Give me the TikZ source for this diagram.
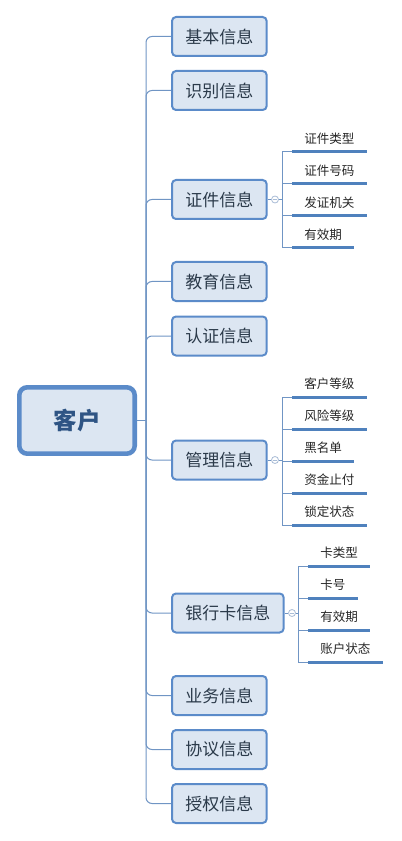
\documentclass[tikz,border=0pt]{standalone}
\usepackage{fontspec}
\newfontfamily\cjk{Noto Sans CJK SC}
\definecolor{boxfill}{HTML}{DCE6F2}
\definecolor{boxline}{HTML}{5B8BC9}
\definecolor{branchline}{HTML}{7095C4}
\definecolor{leafline}{HTML}{4F81BD}
\definecolor{roottext}{HTML}{2E5484}
\definecolor{topictext}{HTML}{2B3A4A}
\definecolor{foldline}{HTML}{A9BCD6}

\begin{document}
\begin{tikzpicture}[x=0.75pt,y=-0.75pt,
  rootbox/.style={draw=boxline,line width=3.4pt,fill=boxfill,rounded corners=6pt,
    minimum width=86.6pt,minimum height=49.8pt,inner sep=0pt,
    text=roottext,font=\cjk\bfseries\fontsize{17.6}{20}\selectfont},
  topic/.style={draw=boxline,line width=1.5pt,fill=boxfill,rounded corners=3pt,
    anchor=west,inner xsep=10pt,inner ysep=0pt,minimum height=29.25pt,
    text=topictext,font=\cjk\fontsize{12.75}{15}\selectfont},
  leaf/.style={anchor=south west,inner xsep=9pt,inner ysep=0pt,minimum height=19.5pt,
    text=black!85,font=\cjk\fontsize{9.4}{11}\selectfont},
  leafline/.style={draw=leafline,line width=2.25pt},
  branch/.style={draw=branchline,line width=0.75pt,rounded corners=4.5pt},
  hub/.style={draw=branchline,line width=0.75pt},
  fold/.style={circle,draw=foldline,fill=white,line width=0.6pt,minimum size=5.25pt,inner sep=0pt,
    path picture={\draw[foldline,line width=0.6pt]
      ([xshift=-1.5pt]path picture bounding box.center) -- ([xshift=1.5pt]path picture bounding box.center);}}
]
\useasboundingbox (0,0) rectangle (401,841);

% main topics
\node[rootbox] (root) at (77,420.5) {客户};
\coordinate (trunk) at (146,420.5);
\node[topic] (jiben) at (171,36.5) {基本信息};
\node[topic] (shibie) at (171,90.5) {识别信息};
\node[topic] (zhengjian) at (171,199.5) {证件信息};
\node[topic] (jiaoyu) at (171,281.5) {教育信息};
\node[topic] (renzheng) at (171,336) {认证信息};
\node[topic] (guanli) at (171,460) {管理信息};
\node[topic] (yinhangka) at (171,613) {银行卡信息};
\node[topic] (yewu) at (171,695.5) {业务信息};
\node[topic] (xieyi) at (171,749.5) {协议信息};
\node[topic] (shouquan) at (171,803.5) {授权信息};

\draw[branch] (root.east) -- (trunk);
\foreach \t in {jiben,shibie,zhengjian,jiaoyu,renzheng,guanli,yinhangka,yewu,xieyi,shouquan}
  \draw[branch] (trunk) |- (\t.west);

% 证件信息
\node[fold] (zhengjian-fold) at (275,199.5) {};
\coordinate (zhengjian-hub) at (282,199.5);
\draw[hub] (zhengjian.east) -- (zhengjian-fold.west);
\draw[hub] (zhengjian-fold.east) -- (zhengjian-hub);
\foreach \name/\y/\txt in {zj1/152/证件类型,zj2/184/证件号码,zj3/216/发证机关,zj4/248/有效期}{
  \node[leaf] (\name) at (292,\y) {\txt};
  \draw[hub] (zhengjian-hub) |- (\name.south west);
  \draw[leafline] (\name.south west) -- (\name.south east);
}

% 管理信息
\node[fold] (guanli-fold) at (275,460) {};
\coordinate (guanli-hub) at (282,460);
\draw[hub] (guanli.east) -- (guanli-fold.west);
\draw[hub] (guanli-fold.east) -- (guanli-hub);
\foreach \name/\y/\txt in {gl1/397/客户等级,gl2/429/风险等级,gl3/461/黑名单,gl4/493/资金止付,gl5/525/锁定状态}{
  \node[leaf] (\name) at (292,\y) {\txt};
  \draw[hub] (guanli-hub) |- (\name.south west);
  \draw[leafline] (\name.south west) -- (\name.south east);
}

% 银行卡信息
\node[fold] (yinhangka-fold) at (292,613) {};
\coordinate (yinhangka-hub) at (298,613);
\draw[hub] (yinhangka.east) -- (yinhangka-fold.west);
\draw[hub] (yinhangka-fold.east) -- (yinhangka-hub);
\foreach \name/\y/\txt in {yh1/566/卡类型,yh2/598/卡号,yh3/630/有效期,yh4/662/账户状态}{
  \node[leaf] (\name) at (308,\y) {\txt};
  \draw[hub] (yinhangka-hub) |- (\name.south west);
  \draw[leafline] (\name.south west) -- (\name.south east);
}
\end{tikzpicture}
\end{document}
